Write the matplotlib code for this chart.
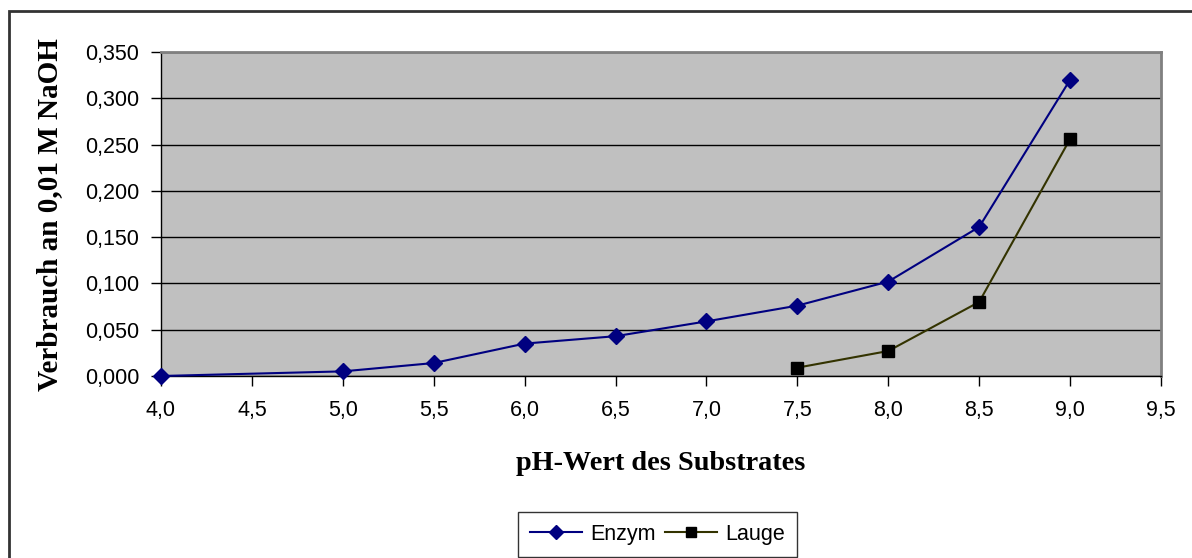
import matplotlib
matplotlib.use("Agg")
import matplotlib.pyplot as plt
from matplotlib.patches import Rectangle
from matplotlib.ticker import FuncFormatter, MultipleLocator

# Data
enzym_ph = [4.0, 5.0, 5.5, 6.0, 6.5, 7.0, 7.5, 8.0, 8.5, 9.0]
enzym_val = [0.000, 0.005, 0.014, 0.035, 0.043, 0.059, 0.076, 0.102, 0.161, 0.320]
lauge_ph = [7.5, 8.0, 8.5, 9.0]
lauge_val = [0.009, 0.027, 0.080, 0.256]
x_label = "pH-Wert des Substrates"
y_label = "Verbrauch an 0,01 M NaOH"
legend_labels = ["Enzym", "Lauge"]

W, H = 1192, 558
fig = plt.figure(figsize=(W / 100, H / 100), dpi=100)
fig.patch.set_facecolor("white")

# outer chart border (extends beyond right/bottom edges)
fig.add_artist(Rectangle((9 / W, -0.1), 1.2, (H - 11) / H + 0.1,
                         transform=fig.transFigure, fill=False,
                         edgecolor="#333333", linewidth=2.0))

ax = fig.add_axes([161 / W, (H - 376) / H, 1000 / W, 324 / H])
ax.set_facecolor("#C0C0C0")
ax.set_xlim(4.0, 9.5)
ax.set_ylim(0.0, 0.35)
ax.xaxis.set_major_locator(MultipleLocator(0.5))
ax.yaxis.set_major_locator(MultipleLocator(0.05))
ax.xaxis.set_major_formatter(FuncFormatter(lambda v, p: f"{v:.1f}".replace(".", ",")))
ax.yaxis.set_major_formatter(FuncFormatter(lambda v, p: f"{v:.3f}".replace(".", ",")))

ax.grid(axis="y", color="black", linewidth=1.0)
ax.set_axisbelow(True)

for s in ["top", "right"]:
    ax.spines[s].set_color("#808080")
    ax.spines[s].set_linewidth(2.0)
for s in ["left", "bottom"]:
    ax.spines[s].set_color("black")
    ax.spines[s].set_linewidth(1.0)

ax.tick_params(axis="both", direction="out", length=7, width=1, color="black",
               labelsize=15.5)
ax.tick_params(axis="x", pad=10.5)
ax.tick_params(axis="y", pad=8.5)
for lab in ax.get_xticklabels() + ax.get_yticklabels():
    lab.set_fontfamily("Liberation Sans")

l1, = ax.plot(enzym_ph, enzym_val, color="#000080", linewidth=1.5, marker="D",
              markersize=8, markerfacecolor="#000080", markeredgecolor="#000080",
              clip_on=False, zorder=5)
l2, = ax.plot(lauge_ph, lauge_val, color="#333300", linewidth=1.5, marker="s",
              markersize=8, markerfacecolor="black", markeredgecolor="black",
              clip_on=False, zorder=5)

fig.text(50 / W, 1 - 215 / H, y_label, rotation=90, ha="center", va="center",
         fontsize=21, fontweight="bold", family="Liberation Serif")
fig.text(661 / W, 1 - 464 / H, x_label, ha="center", va="center",
         fontsize=20.3, fontweight="bold", family="Liberation Serif")

leg = fig.legend([l1, l2], legend_labels, loc="upper left",
                 bbox_to_anchor=(518 / W, 1 - 512 / H), ncol=2,
                 frameon=True, fancybox=False, handlelength=2.4,
                 columnspacing=0.45, handletextpad=0.4, borderpad=0.55,
                 borderaxespad=0.0,
                 prop={"family": "Liberation Sans", "size": 15.5})
leg.get_frame().set_edgecolor("black")
leg.get_frame().set_linewidth(1.0)
for h in leg.legend_handles:
    h.set_markersize(7)

fig.savefig("out.png", dpi=100)
